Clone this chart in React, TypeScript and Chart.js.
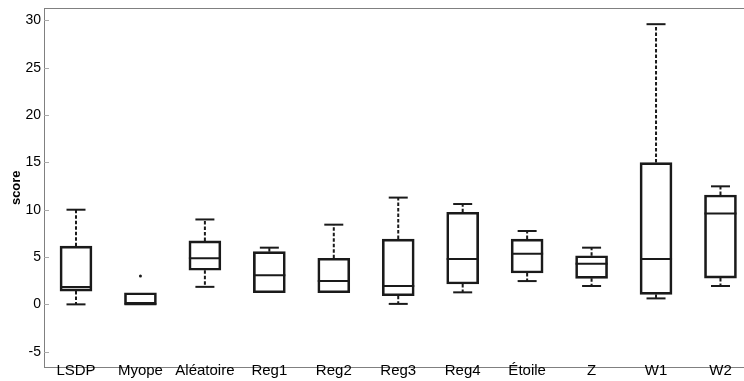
import React, { useEffect, useRef } from "react";
import { Chart, registerables } from "chart.js";

Chart.register(...registerables);

const categories = ["LSDP", "Myope", "Aléatoire", "Reg1", "Reg2", "Reg3", "Reg4", "Étoile", "Z", "W1", "W2"];
const mins = [0, 0, 1.85, 1.23, 1.23, 0.05, 1.27, 2.46, 1.94, 0.63, 1.94];
const q1s = [1.4, 0, 3.6, 1.23, 1.23, 0.91, 2.15, 3.31, 2.75, 1.05, 2.78];
const medians = [1.83, 0, 4.86, 3.07, 2.46, 1.94, 4.8, 5.35, 4.3, 4.8, 9.59];
const q3s = [6.15, 1.23, 6.7, 5.57, 4.87, 6.9, 9.73, 6.9, 5.14, 14.98, 11.55];
const maxs = [10.0, 1.23, 8.97, 5.99, 8.42, 11.28, 10.6, 7.75, 5.99, 29.6, 12.47];
const outlierCats = [1];
const outlierValues = [3.0];
const yTickValues = [-5, 0, 5, 10, 15, 20, 25, 30];

const FONT = "'Liberation Sans', Arial, Helvetica, sans-serif";
const AXIS_GRAY = "#808080";
const INK = "#1a1a1a";

const boxPlugin = {
  id: "boxWhiskers",
  afterDatasetsDraw(chart: any) {
    const ctx = chart.ctx;
    const xs = chart.scales.x;
    const ys = chart.scales.y;
    const boxHalf = 16;
    const capHalf = 9.5;
    ctx.save();
    ctx.strokeStyle = INK;
    ctx.lineWidth = 2;
    for (let i = 0; i < categories.length; i++) {
      const cx = xs.getPixelForValue(i);
      const yMed = ys.getPixelForValue(medians[i]);
      const yQ1 = ys.getPixelForValue(q1s[i]);
      const yQ3 = ys.getPixelForValue(q3s[i]);
      const yMin = ys.getPixelForValue(mins[i]);
      const yMax = ys.getPixelForValue(maxs[i]);
      ctx.setLineDash([]);
      ctx.beginPath();
      ctx.moveTo(cx - boxHalf, yMed);
      ctx.lineTo(cx + boxHalf, yMed);
      ctx.stroke();
      ctx.setLineDash([3.5, 2]);
      if (maxs[i] > q3s[i]) {
        ctx.beginPath();
        ctx.moveTo(cx, yQ3);
        ctx.lineTo(cx, yMax);
        ctx.stroke();
      }
      if (mins[i] < q1s[i]) {
        ctx.beginPath();
        ctx.moveTo(cx, yQ1);
        ctx.lineTo(cx, yMin);
        ctx.stroke();
      }
      ctx.setLineDash([]);
      if (maxs[i] > q3s[i]) {
        ctx.beginPath();
        ctx.moveTo(cx - capHalf, yMax);
        ctx.lineTo(cx + capHalf, yMax);
        ctx.stroke();
      }
      if (mins[i] < q1s[i]) {
        ctx.beginPath();
        ctx.moveTo(cx - capHalf, yMin);
        ctx.lineTo(cx + capHalf, yMin);
        ctx.stroke();
      }
    }
    ctx.restore();
  },
  afterDraw(chart: any) {
    const ctx = chart.ctx;
    const a = chart.chartArea;
    const ys = chart.scales.y;
    ctx.save();
    ctx.strokeStyle = AXIS_GRAY;
    ctx.lineWidth = 1;
    ctx.beginPath();
    ctx.moveTo(a.left, a.top + 0.5);
    ctx.lineTo(a.right, a.top + 0.5);
    ctx.stroke();
    ctx.strokeStyle = "#aaaaaa";
    for (const v of yTickValues) {
      const y = Math.round(ys.getPixelForValue(v)) + 0.5;
      ctx.beginPath();
      ctx.moveTo(a.left, y);
      ctx.lineTo(a.left + 5, y);
      ctx.stroke();
    }
    ctx.restore();
  },
};

export default function App() {
  const ref = useRef<HTMLCanvasElement>(null);
  useEffect(() => {
    if (!ref.current) return;
    const chart = new Chart(ref.current, {
      type: "bar",
      data: {
        datasets: [
          {
            type: "bar",
            data: categories.map((_, i) => ({ x: i, y: [q1s[i], q3s[i]] })) as any,
            backgroundColor: "rgba(255,255,255,0)",
            borderColor: INK,
            borderWidth: 2,
            borderSkipped: false,
            barThickness: 32,
          } as any,
          {
            type: "scatter",
            data: outlierCats.map((c, i) => ({ x: c, y: outlierValues[i] })),
            pointRadius: 1.5,
            pointHoverRadius: 1.5,
            pointBackgroundColor: INK,
            pointBorderWidth: 0,
          } as any,
        ],
      },
      options: {
        responsive: false,
        animation: false,
        layout: { autoPadding: false, padding: { top: 8, right: 0, left: 0, bottom: 0 } },
        plugins: { legend: { display: false }, tooltip: { enabled: false } },
        scales: {
          x: {
            type: "linear",
            min: -0.4965,
            max: 10.365,
            offset: false,
            grid: { display: false, drawTicks: false },
            border: { display: true, color: AXIS_GRAY, width: 1 },
            afterBuildTicks: (scale: any) => {
              scale.ticks = categories.map((_, i) => ({ value: i }));
            },
            afterFit: (scale: any) => {
              scale.height = 13.5;
              scale.paddingLeft = 0;
              scale.paddingRight = 0;
              scale._computeLabelArea = () => undefined;
            },
            ticks: {
              autoSkip: false,
              maxRotation: 0,
              padding: -6,
              color: "#000",
              font: { family: FONT, size: 15 },
              callback: (v: any) => categories[v] ?? "",
            },
          },
          y: {
            type: "linear",
            min: -6.67,
            max: 31.31,
            grid: { display: false, drawTicks: false },
            border: { display: true, color: AXIS_GRAY, width: 1 },
            afterBuildTicks: (scale: any) => {
              scale.ticks = yTickValues.map((v) => ({ value: v }));
            },
            afterFit: (scale: any) => {
              scale.width = 44;
              scale.paddingTop = 0;
              scale.paddingBottom = 0;
            },
            title: {
              display: true,
              text: "score",
              color: "#000",
              font: { family: FONT, size: 13, weight: "bold" },
              padding: { top: 9, bottom: 0 },
            },
            ticks: {
              padding: 3,
              color: "#000",
              font: { family: FONT, size: 14 },
            },
          },
        },
      },
      plugins: [boxPlugin],
    } as any);
    return () => chart.destroy();
  }, []);
  return (
    <div style={{ position: "absolute", left: 0, top: 0, width: 744, height: 381, background: "#fff" }}>
      <canvas ref={ref} width={744} height={381} style={{ display: "block" }} />
    </div>
  );
}
